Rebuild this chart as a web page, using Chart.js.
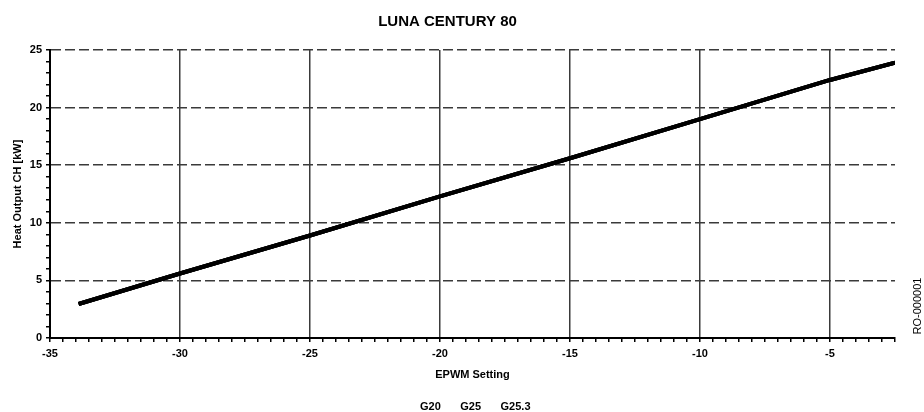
<!DOCTYPE html>
<html>
<head>
<meta charset="utf-8">
<script src="https://cdn.jsdelivr.net/npm/chart.js@4"></script>
<style>
  html, body { margin: 0; padding: 0; background: #fff; }
  #wrap { width: 924px; height: 412px; position: relative; }
</style>
</head>
<body>
<div id="wrap"><canvas id="c" width="924" height="412"></canvas></div>
<script>
const chartTitle = 'LUNA CENTURY 80';
const xTitle = 'EPWM Setting';
const yTitle = 'Heat Output CH [kW]';
const seriesNames = ['G20', 'G25', 'G25.3'];
const xValues = [-33.9, -30, -25, -20, -15, -10, -5, -2.5];
const heatOutput = [2.95, 5.6, 8.9, 12.3, 15.6, 19.0, 22.4, 23.9];
const xTickLabels = ['-35', '-30', '-25', '-20', '-15', '-10', '-5'];
const yTickLabels = ['0', '5', '10', '15', '20', '25'];
const sideNote = 'RO-000001';

const pts = xValues.map((x, i) => ({x: x, y: heatOutput[i]}));
const font = {family: '"Liberation Sans", Arial, sans-serif', weight: 'bold', size: 11};

const sideNotePlugin = {
  id: 'sideNote',
  afterLayout(chart) {
    // center the legend under the plot area rather than the whole canvas
    const lg = chart.legend;
    if (lg) {
      const shift = (chart.chartArea.left + chart.chartArea.right) / 2 - (lg.left + lg.right) / 2;
      lg.left += shift; lg.right += shift;
    }
  },
  afterDraw(chart) {
    const ctx = chart.ctx;
    ctx.save();
    ctx.translate(918, 306);
    ctx.rotate(-Math.PI / 2);
    ctx.font = '11px "Liberation Sans", Arial, sans-serif';
    ctx.fillStyle = '#000';
    ctx.textAlign = 'center';
    ctx.textBaseline = 'middle';
    ctx.fillText(sideNote, 0, 0);
    ctx.restore();
  }
};

const isMajor = v => Math.abs(v / 5 - Math.round(v / 5)) < 1e-6;

new Chart(document.getElementById('c'), {
  type: 'line',
  data: {
    datasets: [
      {label: seriesNames[0], data: pts, borderColor: '#000', backgroundColor: '#000', borderWidth: 4, pointRadius: 0, tension: 0},
      {label: seriesNames[1], data: pts, borderColor: '#000', backgroundColor: '#000', borderWidth: 4, pointRadius: 0, tension: 0},
      {label: seriesNames[2], data: pts, borderColor: '#000', backgroundColor: '#000', borderWidth: 4, pointRadius: 0, tension: 0}
    ]
  },
  options: {
    responsive: false,
    animation: false,
    layout: {padding: {left: 0, right: 29, top: 0, bottom: -10}},
    plugins: {
      title: {display: true, text: chartTitle, color: '#000',
        font: {family: font.family, weight: 'bold', size: 15}, padding: {top: 13, bottom: 19}},
      legend: {display: true, position: 'bottom',
        labels: {color: '#000', font: font, boxWidth: 0, boxHeight: 0, padding: 14}},
      tooltip: {enabled: false}
    },
    scales: {
      x: {
        type: 'linear', min: -35, max: -2.5,
        afterBuildTicks(scale) {
          const t = [];
          for (let v = -35; v <= -2.5 + 1e-9; v += 0.5) t.push({value: Math.round(v * 10) / 10});
          scale.ticks = t;
        },
        afterFit(scale) { scale.height = 49; },
        ticks: {autoSkip: false, maxRotation: 0, minRotation: 0, color: '#000', font: font, padding: 5,
          callback: v => isMajor(v) ? xTickLabels[Math.round((v + 35) / 5)] : ''},
        grid: {
          color: ctx => (ctx.tick && isMajor(ctx.tick.value) && ctx.tick.value > -35) ? '#3a3a3a' : 'rgba(0,0,0,0)',
          lineWidth: 1.5, tickColor: '#000', tickWidth: 1.5, tickLength: 4
        },
        border: {display: true, color: '#000', width: 2},
        title: {display: true, text: xTitle, color: '#000', font: font, padding: {top: 0, bottom: 5}}
      },
      y: {
        type: 'linear', min: 0, max: 25,
        afterBuildTicks(scale) {
          const t = [];
          for (let v = 0; v <= 25; v += 1) t.push({value: v});
          scale.ticks = t;
        },
        afterFit(scale) { scale.width = 50; },
        ticks: {autoSkip: false, color: '#000', font: font, padding: 4,
          callback: v => isMajor(v) ? yTickLabels[Math.round(v / 5)] : ''},
        grid: {
          color: ctx => (ctx.tick && isMajor(ctx.tick.value) && ctx.tick.value > 0) ? '#3a3a3a' : 'rgba(0,0,0,0)',
          lineWidth: 1.5, tickColor: '#000', tickWidth: 1.5, tickLength: 4
        },
        border: {display: true, color: '#000', width: 2, dash: [10, 4]},
        title: {display: true, text: yTitle, color: '#000', font: font, padding: {top: 11, bottom: 0}}
      }
    }
  },
  plugins: [sideNotePlugin]
});
</script>
</body>
</html>
